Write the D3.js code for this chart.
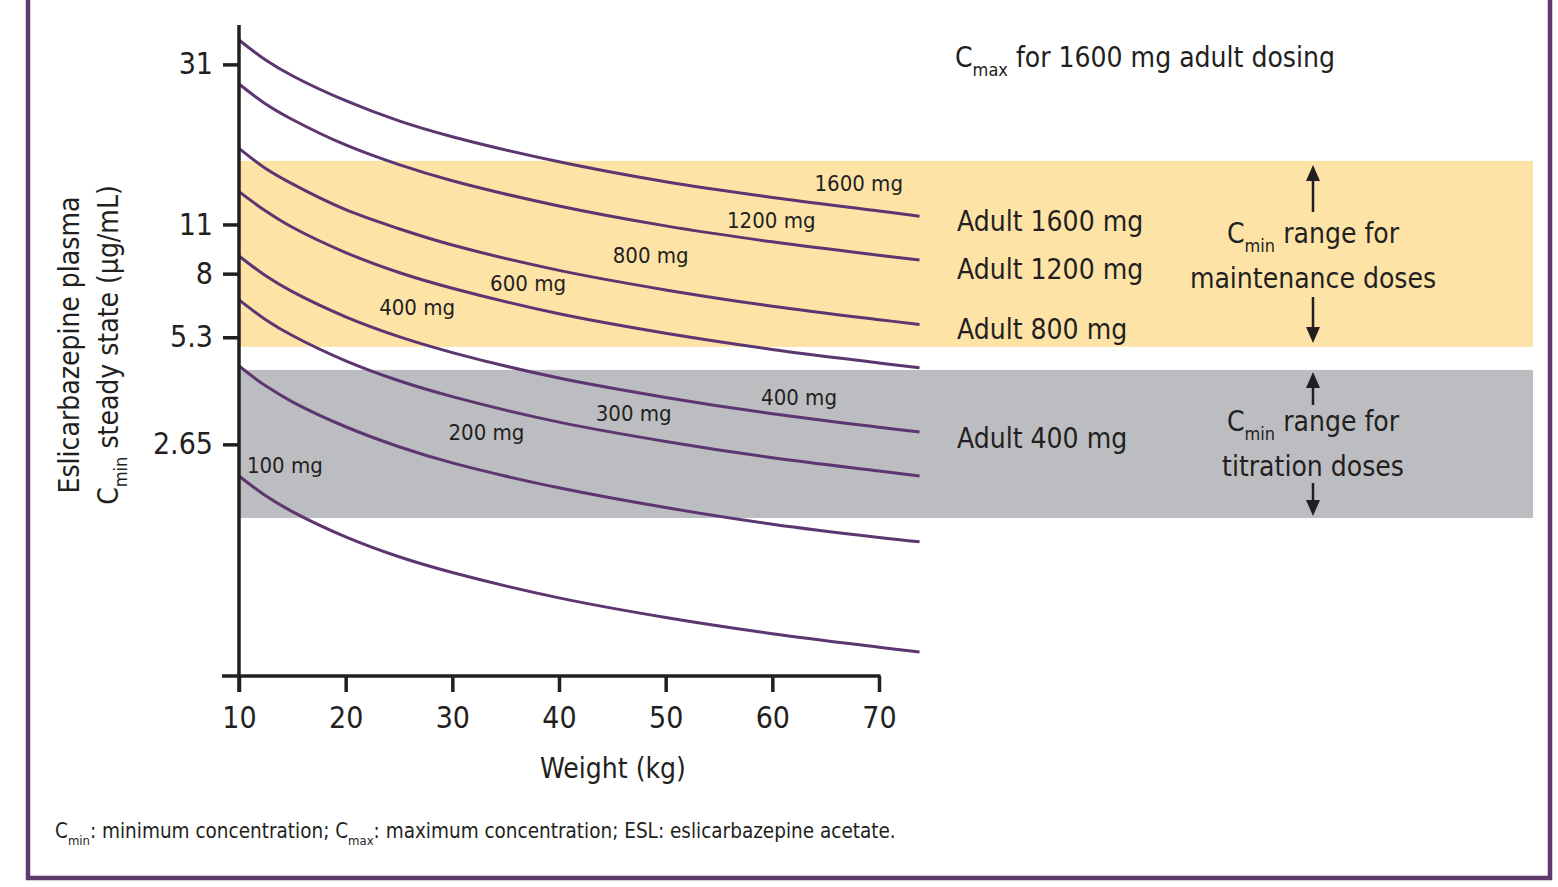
<!DOCTYPE html>
<html><head><meta charset="utf-8">
<script src="https://cdn.jsdelivr.net/npm/d3@7"></script>
<style>
html,body{margin:0;padding:0;background:#fff;}
svg text{font-family:"Liberation Sans Narrow","DejaVu Sans Condensed","Roboto",sans-serif;fill:#231f20;}
</style></head>
<body>
<svg id="chart" width="1558" height="887"></svg>
<script>
// ---- data ----
const weights = [10, 12.5, 15, 20, 25, 30, 40, 50, 60, 70, 73.8];
const doses = ["1600 mg","1200 mg","800 mg","600 mg","400 mg","300 mg","200 mg","100 mg"];
const c1600 = [36.3, 31.9, 28.8, 24.5, 21.5, 19.4, 16.5, 14.5, 13.1, 12.0, 11.6];
const c1200 = [27.3, 24.0, 21.7, 18.4, 16.2, 14.6, 12.4, 10.9, 9.83, 9.01, 8.74];
const c800  = [18.0, 15.8, 14.3, 12.1, 10.7, 9.63, 8.17, 7.20, 6.48, 5.94, 5.76];
const c600  = [13.6, 12.0, 10.8, 9.17, 8.06, 7.28, 6.17, 5.44, 4.90, 4.49, 4.35];
const c400  = [8.97, 7.89, 7.12, 6.05, 5.32, 4.80, 4.07, 3.59, 3.23, 2.96, 2.87];
const c300  = [6.75, 5.94, 5.36, 4.55, 4.00, 3.61, 3.06, 2.70, 2.43, 2.23, 2.16];
const c200  = [4.40, 3.87, 3.49, 2.97, 2.61, 2.35, 2.00, 1.76, 1.58, 1.45, 1.41];
const c100  = [2.16, 1.90, 1.715, 1.456, 1.28, 1.156, 0.981, 0.864, 0.778, 0.713, 0.691];
const seriesValues = [c1600, c1200, c800, c600, c400, c300, c200, c100];

const xTicks = [10, 20, 30, 40, 50, 60, 70];
const yTicks = [2.65, 5.3, 8, 11, 31];
const yTickLabels = ["2.65", "5.3", "8", "11", "31"];

// reference bands (Cmin ranges)
const maintenanceRange = [4.98, 16.6];
const titrationRange = [1.645, 4.29];

// curve labels anchored at (weight, concentration)
const curveLabelText = ["1600 mg","1200 mg","800 mg","600 mg","400 mg","400 mg","300 mg","200 mg","100 mg"];
const curveLabelW    = [68.1, 59.9, 48.6, 37.1, 26.7, 62.5, 47.0, 33.2, 14.3];
const curveLabelC    = [14.4, 11.3, 9.03, 7.53, 6.45, 3.60, 3.25, 2.87, 2.32];

const adultLabels = ["Adult 1600 mg","Adult 1200 mg","Adult 800 mg","Adult 400 mg"];

// ---- drawing ----
const svg = d3.select("#chart");
const ink = "#231f20", purple = "#5c3670";
const big = "28px", sub = "18px";

const x = d3.scaleLinear().domain([10, 70]).range([239, 879]);
const y = d3.scaleLog().domain([0.5917, 40]).range([676, 25]);

// bands
const bandLeft = x(10), bandRight = 1533;
svg.append("rect").attr("x", bandLeft).attr("width", bandRight - bandLeft)
  .attr("y", y(maintenanceRange[1])).attr("height", y(maintenanceRange[0]) - y(maintenanceRange[1]))
  .attr("fill", "#fee3a7");
svg.append("rect").attr("x", bandLeft).attr("width", bandRight - bandLeft)
  .attr("y", y(titrationRange[1])).attr("height", y(titrationRange[0]) - y(titrationRange[1]))
  .attr("fill", "#bcbdc1");

// curves
const line = d3.line().x(d => x(d[0])).y(d => y(d[1])).curve(d3.curveCatmullRom.alpha(0.5));
svg.append("g").selectAll("path").data(seriesValues).join("path")
  .attr("d", vals => line(vals.map((v, i) => [weights[i], v])))
  .attr("fill", "none").attr("stroke", purple).attr("stroke-width", 3);

// curve labels
svg.append("g").selectAll("text").data(curveLabelText).join("text")
  .attr("x", (d, i) => x(curveLabelW[i])).attr("y", (d, i) => y(curveLabelC[i]))
  .attr("dy", "0.35em").attr("text-anchor", "middle")
  .style("font-size", "22px").text(d => d);

// x axis
const xAxis = d3.axisBottom(x).tickValues(xTicks).tickSize(16).tickPadding(15).tickFormat(d3.format("d"));
const gx = svg.append("g").attr("transform", "translate(0,676)").call(xAxis);
gx.select(".domain").remove();
gx.append("line").attr("x1", 222).attr("x2", x(70) + 1.5).attr("stroke", ink).attr("stroke-width", 3.5);
gx.selectAll(".tick line").attr("stroke", ink).attr("stroke-width", 3.5);
gx.selectAll(".tick text").style("font-size", "30px").attr("fill", ink);

// y axis
const yAxis = d3.axisLeft(y).tickValues(yTicks).tickSize(16).tickPadding(10)
  .tickFormat((d, i) => yTickLabels[i]);
const gy = svg.append("g").attr("transform", "translate(" + x(10) + ",0)").call(yAxis);
gy.select(".domain").remove();
gy.append("line").attr("y1", 25).attr("y2", 692).attr("stroke", ink).attr("stroke-width", 3.5);
gy.selectAll(".tick line").attr("stroke", ink).attr("stroke-width", 3.5);
gy.selectAll(".tick text").style("font-size", "30px").attr("fill", ink);

// axis titles
svg.append("text").attr("x", 613).attr("y", 778).attr("text-anchor", "middle")
  .style("font-size", big).text("Weight (kg)");
svg.append("text").attr("transform", "translate(79,345) rotate(-90)")
  .attr("text-anchor", "middle").style("font-size", big).text("Eslicarbazepine plasma");
const yt2 = svg.append("text").attr("transform", "translate(118,345) rotate(-90)")
  .attr("text-anchor", "middle").style("font-size", big);
yt2.append("tspan").text("C");
yt2.append("tspan").attr("dy", 9).style("font-size", sub).text("min");
yt2.append("tspan").attr("dy", -9).text(" steady state (µg/mL)");

// Cmax annotation
const cmax = svg.append("text").attr("x", 955).attr("y", 67).style("font-size", big);
cmax.append("tspan").text("C");
cmax.append("tspan").attr("dy", 9).style("font-size", sub).text("max");
cmax.append("tspan").attr("dy", -9).text(" for 1600 mg adult dosing");

// adult labels
const adultY = [231, 279, 339, 448];
svg.append("g").selectAll("text").data(adultLabels).join("text")
  .attr("x", 957).attr("y", (d, i) => adultY[i]).style("font-size", big).text(d => d);

// range annotations
function rangeLabel(cy, line2) {
  const t1 = svg.append("text").attr("x", 1313).attr("y", cy).attr("text-anchor", "middle").style("font-size", big);
  t1.append("tspan").text("C");
  t1.append("tspan").attr("dy", 9).style("font-size", sub).text("min");
  t1.append("tspan").attr("dy", -9).text(" range for");
  svg.append("text").attr("x", 1313).attr("y", cy + 45).attr("text-anchor", "middle")
    .style("font-size", big).text(line2);
}
function arrow(xa, yFrom, yTip) {
  const dir = yTip < yFrom ? -1 : 1;
  svg.append("line").attr("x1", xa).attr("x2", xa).attr("y1", yFrom).attr("y2", yTip - dir * 10)
    .attr("stroke", ink).attr("stroke-width", 2.5);
  svg.append("path").attr("d", `M${xa},${yTip} L${xa - 7},${yTip - dir * 16} L${xa + 7},${yTip - dir * 16} Z`)
    .attr("fill", ink);
}
rangeLabel(243, "maintenance doses");
arrow(1313, 212, y(maintenanceRange[1]) + 4);
arrow(1313, 297, y(maintenanceRange[0]) - 4);
rangeLabel(431, "titration doses");
arrow(1313, 405, y(titrationRange[1]) + 2);
arrow(1313, 483, y(titrationRange[0]) - 2);

// footnote
const fn = svg.append("text").attr("x", 55).attr("y", 838).style("font-size", "20.5px");
fn.append("tspan").text("C");
fn.append("tspan").attr("dy", 7).style("font-size", "13px").text("min");
fn.append("tspan").attr("dy", -7).text(": minimum concentration; C");
fn.append("tspan").attr("dy", 7).style("font-size", "13px").text("max");
fn.append("tspan").attr("dy", -7).text(": maximum concentration; ESL: eslicarbazepine acetate.");

// frame
svg.append("path").attr("d", "M28,0 V878 H1550 V0").attr("fill", "none")
  .attr("stroke", "#5e3a6e").attr("stroke-width", 4.5);
</script>
</body></html>
